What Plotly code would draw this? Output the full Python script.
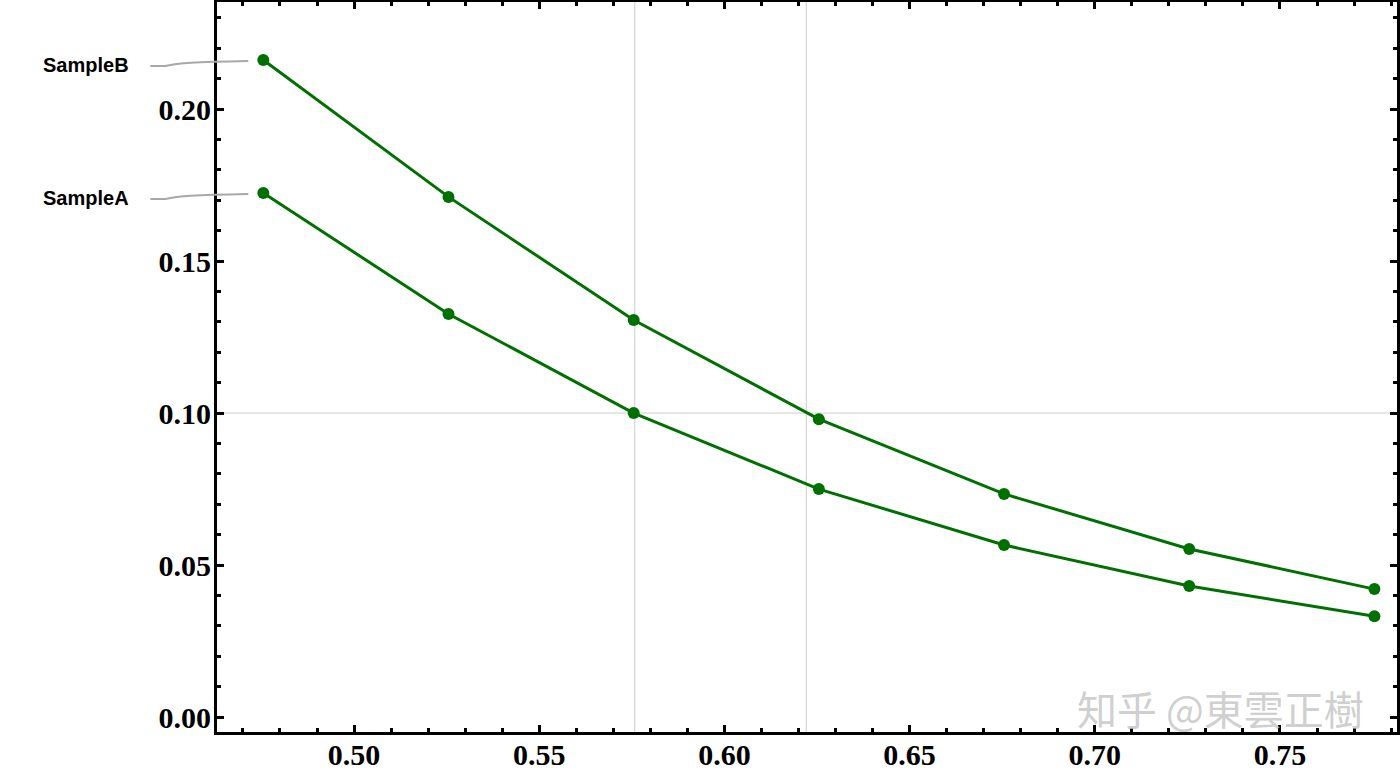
import plotly.graph_objects as go

# ---- data ----
x_vals = [0.4755, 0.5255, 0.5755, 0.6255, 0.6755, 0.7255, 0.7755]
sample_a = [0.1724, 0.1326, 0.1000, 0.0750, 0.0566, 0.0431, 0.0332]
sample_b = [0.2161, 0.1711, 0.1306, 0.0980, 0.0734, 0.0553, 0.0421]
series_names = ["SampleA", "SampleB"]
x_ticks = [0.50, 0.55, 0.60, 0.65, 0.70, 0.75]
x_tick_labels = ["0.50", "0.55", "0.60", "0.65", "0.70", "0.75"]
y_ticks = [0.00, 0.05, 0.10, 0.15, 0.20]
y_tick_labels = ["0.00", "0.05", "0.10", "0.15", "0.20"]
grid_x = [0.5758, 0.6221]
grid_y = [0.10]
watermark = "知乎 @東雲正樹"

# ---- styling ----
W, H = 1400, 772
ML, MR, MT, MB = 217, 3, 2, 40
X_RANGE = [0.463, 0.7816]
Y_RANGE = [-0.0049, 0.2352]
GREEN = "rgb(0,112,0)"

fig = go.Figure()
for name, ys in zip(series_names, [sample_a, sample_b]):
    fig.add_trace(go.Scatter(
        x=x_vals, y=ys, name=name, mode="lines+markers",
        line=dict(color=GREEN, width=3),
        marker=dict(color=GREEN, size=12),
        showlegend=False, cliponaxis=False,
    ))

for gx in grid_x:
    fig.add_shape(type="line", xref="x", yref="paper", x0=gx, x1=gx, y0=0, y1=1,
                  line=dict(color="#cccccc", width=1), layer="below")
for gy in grid_y:
    fig.add_shape(type="line", xref="paper", yref="y", x0=0, x1=1, y0=gy, y1=gy,
                  line=dict(color="#cccccc", width=1), layer="below")

# callout labels at left, connected to first point of each series
pw = W - ML - MR
ph = H - MT - MB
def to_px(xv, yv):
    px = ML + (xv - X_RANGE[0]) / (X_RANGE[1] - X_RANGE[0]) * pw
    py = MT + (Y_RANGE[1] - yv) / (Y_RANGE[1] - Y_RANGE[0]) * ph
    return px, py
def to_paper(px, py):
    return (px - ML) / pw, 1 - (py - MT) / ph

for name, ys in zip(series_names, [sample_a, sample_b]):
    px, py = to_px(x_vals[0], ys[0])
    start = to_paper(px - 113, py + 6)
    p1 = to_paper(px - 98, py + 6)
    c1 = to_paper(px - 85, py + 3)
    c2 = to_paper(px - 70, py + 2)
    end = to_paper(px - 15, py + 1)
    path = (f"M {start[0]} {start[1]} L {p1[0]} {p1[1]} "
            f"C {c1[0]} {c1[1]} {c2[0]} {c2[1]} {end[0]} {end[1]}")
    fig.add_shape(type="path", xref="paper", yref="paper", path=path,
                  line=dict(color="#a8a8a8", width=2))
    lx, ly = to_paper(px - 132, py + 5)
    fig.add_annotation(xref="paper", yref="paper", x=lx, y=ly, text=f"<b>{name}</b>",
                       showarrow=False, xanchor="right", yanchor="middle",
                       font=dict(family="Liberation Sans, Arial", size=20, color="black"))

wx, wy = to_paper(1366, 708)
fig.add_annotation(xref="paper", yref="paper", x=wx, y=wy, text=watermark,
                   showarrow=False, xanchor="right", yanchor="middle",
                   font=dict(family="Noto Sans CJK SC", size=40, color="rgba(195,195,195,0.8)"))

axis_common = dict(
    showline=True, linecolor="black", linewidth=3, mirror="ticks",
    ticks="inside", ticklen=7, tickwidth=3, tickcolor="black",
    showgrid=False, zeroline=False, automargin=False,
    tickfont=dict(family="Liberation Serif, Times New Roman", size=30, color="black"),
)

fig.update_xaxes(range=X_RANGE, tickvals=x_ticks, ticktext=[f"<b>{t}</b>" for t in x_tick_labels],
                 ticklabelstandoff=-6,
                 minor=dict(dtick=0.01, tick0=0.0, ticks="inside", ticklen=4, tickwidth=3,
                            tickcolor="black", showgrid=False),
                 **axis_common)
fig.update_yaxes(range=Y_RANGE, tickvals=y_ticks, ticktext=[f"<b>{t}</b>" for t in y_tick_labels],
                 ticklabelstandoff=-3,
                 minor=dict(dtick=0.01, tick0=0.0, ticks="inside", ticklen=4, tickwidth=3,
                            tickcolor="black", showgrid=False),
                 **axis_common)

fig.update_layout(
    width=W, height=H,
    margin=dict(l=ML, r=MR, t=MT, b=MB),
    paper_bgcolor="white", plot_bgcolor="white",
)

fig.write_html(
    "out.html",
    config={"displayModeBar": False},
    post_script="document.body.style.margin='0';document.body.style.padding='0';"
                "document.body.style.overflow='hidden';document.documentElement.style.overflow='hidden';",
)
